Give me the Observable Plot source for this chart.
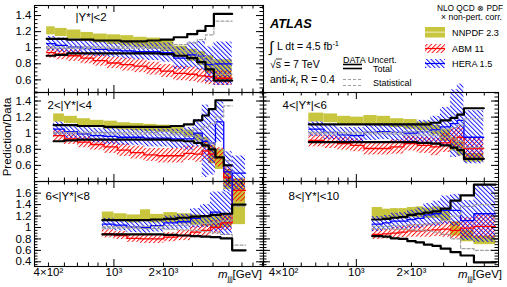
<!DOCTYPE html>
<html><head><meta charset="utf-8">
<script src="https://cdn.jsdelivr.net/npm/d3@7"></script>
<script src="https://cdn.jsdelivr.net/npm/@observablehq/plot@0.6"></script>
<style>
body{margin:0;background:#fff;}
#c{position:relative;width:507px;height:287px;overflow:hidden;background:#fff;font-family:"Liberation Sans",Arial,sans-serif;}
#c svg{position:absolute;}
</style></head><body><div id="c"></div>
<script>
// ---------- tick labels ----------
const xLabelVals = [400, 1000, 2000];
const xLabelTexts = ["4×10²", "10³", "2×10³"];
const xMinorTicks = [300,400,500,600,700,800,900,2000,3000,4000,5000,6000,7000,8000,9000];
const xMajorTicks = [1000];
const yMajorTop = [0.6, 0.8, 1.0, 1.2, 1.4];
const yMajorBottom = [0.4, 0.6, 0.8, 1.0, 1.2, 1.4, 1.6];
const panelLabels = ["|Y*|<2", "2<|Y*|<4", "4<|Y*|<6", "6<|Y*|<8", "8<|Y*|<10"];

// ---------- panel 1 : |Y*|<2 ----------
const p1Edges = [390, 440, 520, 630, 750, 910, 1100, 1320, 1590, 1920, 2310, 2790, 3210, 3600, 4050, 5230];
const p1TotUp = [1.11, 1.11, 1.10, 1.10, 1.09, 1.09, 1.08, 1.08, 1.09, 1.10, 1.13, 1.17, 1.21, 1.27, 1.42];
const p1TotDn = [0.90, 0.91, 0.93, 0.93, 0.93, 0.93, 0.93, 0.93, 0.93, 0.92, 0.90, 0.87, 0.82, 0.73, 0.59];
const p1StatUp = [1.01, 1.01, 1.01, 1.01, 1.01, 1.01, 1.01, 1.01, 1.01, 1.02, 1.04, 1.06, 1.10, 1.16, 1.33];
const p1StatDn = [0.99, 0.99, 0.99, 0.99, 0.99, 0.99, 0.99, 0.99, 0.99, 0.98, 0.96, 0.94, 0.90, 0.84, 0.67];
const p1NnHi = [1.26, 1.24, 1.22, 1.19, 1.17, 1.16, 1.15, 1.13, 1.12, 1.10, 1.02, 0.98, 0.95, 0.90, 0.85];
const p1NnLo = [1.16, 1.14, 1.11, 1.08, 1.06, 1.04, 1.02, 1.00, 0.98, 0.95, 0.88, 0.83, 0.78, 0.68, 0.58];
const p1HeraC = [1.05, 1.03, 1.01, 0.99, 0.98, 0.97, 0.96, 0.95, 0.95, 0.94, 0.87, 0.91, 0.90, 0.79, 0.80];
const p1HeraE = [0.09, 0.09, 0.09, 0.09, 0.09, 0.09, 0.10, 0.10, 0.11, 0.12, 0.14, 0.16, 0.18, 0.22, 0.27];
const p1AbmC = [0.94, 0.92, 0.90, 0.87, 0.84, 0.81, 0.79, 0.77, 0.74, 0.71, 0.68, 0.67, 0.65, 0.64, 0.62];
const p1AbmE = [0.07, 0.07, 0.07, 0.07, 0.07, 0.07, 0.08, 0.08, 0.08, 0.08, 0.09, 0.09, 0.09, 0.10, 0.09];

// ---------- panel 2 : 2<|Y*|<4 ----------
const p2Edges = [430, 500, 600, 720, 870, 1050, 1260, 1520, 1830, 2210, 2660, 3060, 3440, 3770, 4140, 4650, 5230];
const p2TotUp = [1.10, 1.10, 1.09, 1.09, 1.08, 1.08, 1.08, 1.08, 1.08, 1.09, 1.11, 1.16, 1.22, 1.30, 1.41, 1.41];
const p2TotDn = [0.90, 0.91, 0.92, 0.92, 0.92, 0.92, 0.92, 0.92, 0.92, 0.91, 0.90, 0.88, 0.85, 0.80, 0.70, 0.60];
const p2StatUp = [1.01, 1.01, 1.01, 1.01, 1.01, 1.01, 1.01, 1.01, 1.02, 1.02, 1.03, 1.05, 1.08, 1.12, 1.20, 1.34];
const p2StatDn = [0.99, 0.99, 0.99, 0.99, 0.99, 0.99, 0.99, 0.99, 0.98, 0.98, 0.97, 0.95, 0.92, 0.88, 0.80, 0.66];
const p2NnHi = [1.24, 1.21, 1.18, 1.16, 1.15, 1.13, 1.12, 1.11, 1.10, 1.08, 1.04, 1.00, 0.95, 0.85, 0.80, 0.55];
const p2NnLo = [1.14, 1.12, 1.09, 1.07, 1.05, 1.04, 1.03, 1.02, 1.01, 0.99, 0.95, 0.90, 0.82, 0.62, 0.55, 0.30];
const p2HeraC = [1.05, 1.02, 0.99, 0.97, 0.96, 0.95, 0.95, 0.94, 0.94, 0.93, 0.93, 1.00, 0.90, 0.88, 1.14, 0.52];
const p2HeraE = [0.09, 0.09, 0.09, 0.09, 0.10, 0.10, 0.10, 0.11, 0.11, 0.12, 0.14, 0.17, 0.45, 0.40, 0.25, 0.25];
const p2AbmC = [0.97, 0.93, 0.89, 0.86, 0.83, 0.79, 0.76, 0.73, 0.72, 0.72, 0.75, 0.74, 0.78, 0.74, 0.70, 0.45];
const p2AbmE = [0.07, 0.07, 0.07, 0.07, 0.08, 0.08, 0.08, 0.08, 0.09, 0.09, 0.09, 0.10, 0.11, 0.11, 0.12, 0.12];

// ---------- panel 3 : 4<|Y*|<6 ----------
const p3Edges = [550, 665, 790, 930, 1100, 1300, 1540, 1820, 2150, 2550, 2880, 3270, 3560, 3870, 4970];
const p3TotUp = [1.11, 1.11, 1.11, 1.11, 1.11, 1.11, 1.11, 1.11, 1.11, 1.13, 1.16, 1.19, 1.23, 1.31];
const p3TotDn = [0.89, 0.89, 0.89, 0.89, 0.89, 0.89, 0.89, 0.89, 0.88, 0.87, 0.85, 0.82, 0.79, 0.68];
const p3StatUp = [1.01, 1.01, 1.01, 1.01, 1.01, 1.01, 1.01, 1.02, 1.02, 1.03, 1.05, 1.07, 1.10, 1.18];
const p3StatDn = [0.99, 0.99, 0.99, 0.99, 0.99, 0.99, 0.99, 0.98, 0.98, 0.97, 0.95, 0.93, 0.90, 0.82];
const p3NnHi = [1.25, 1.24, 1.21, 1.20, 1.22, 1.21, 1.18, 1.17, 1.14, 1.10, 1.05, 0.95, 0.90, 0.75];
const p3NnLo = [1.14, 1.13, 1.11, 1.10, 1.10, 1.09, 1.07, 1.05, 1.03, 0.98, 0.90, 0.78, 0.72, 0.64];
const p3HeraC = [1.05, 1.01, 0.98, 0.97, 1.01, 1.02, 1.01, 1.00, 1.02, 1.04, 1.08, 1.12, 1.16, 0.95];
const p3HeraE = [0.09, 0.09, 0.09, 0.10, 0.10, 0.10, 0.11, 0.12, 0.14, 0.17, 0.24, 0.42, 0.45, 0.33];
const p3AbmC = [0.91, 0.89, 0.87, 0.85, 0.81, 0.81, 0.83, 0.87, 0.85, 0.83, 0.88, 0.93, 0.95, 0.81];
const p3AbmE = [0.08, 0.08, 0.08, 0.08, 0.08, 0.08, 0.09, 0.09, 0.10, 0.11, 0.12, 0.13, 0.14, 0.13];

// ---------- panel 4 : 6<|Y*|<8 ----------
const p4Edges = [850, 1000, 1200, 1450, 1670, 2010, 2430, 2920, 3360, 3860, 4440, 5230, 6310];
const p4TotUp = [1.13, 1.13, 1.13, 1.13, 1.14, 1.15, 1.17, 1.19, 1.20, 1.22, 1.24, 1.40];
const p4TotDn = [0.88, 0.88, 0.88, 0.88, 0.88, 0.87, 0.86, 0.85, 0.84, 0.83, 0.81, 0.60];
const p4StatUp = [1.01, 1.01, 1.01, 1.02, 1.02, 1.03, 1.04, 1.05, 1.07, 1.09, 1.12, 1.37];
const p4StatDn = [0.99, 0.99, 0.99, 0.98, 0.98, 0.97, 0.96, 0.95, 0.93, 0.91, 0.88, 0.69];
const p4NnHi = [1.27, 1.24, 1.22, 1.31, 1.23, 1.26, 1.24, 1.22, 1.20, 1.20, 1.22, 1.85];
const p4NnLo = [1.12, 1.10, 1.08, 1.10, 1.08, 1.08, 1.06, 1.04, 1.02, 1.00, 1.00, 1.05];
const p4HeraC = [1.06, 1.04, 1.01, 1.00, 1.03, 1.08, 1.10, 1.16, 1.20, 1.27, 1.24, 1.95];
const p4HeraE = [0.10, 0.10, 0.10, 0.10, 0.11, 0.12, 0.13, 0.17, 0.20, 0.35, 0.38, 0.30];
const p4AbmC = [0.89, 0.86, 0.81, 0.80, 0.80, 0.83, 0.86, 0.92, 0.95, 1.00, 1.08, 1.65];
const p4AbmE = [0.07, 0.07, 0.07, 0.08, 0.08, 0.08, 0.09, 0.10, 0.11, 0.12, 0.13, 0.20];

// ---------- panel 5 : 8<|Y*|<10 ----------
const p5Edges = [1220, 1390, 1540, 1710, 1900, 2110, 2340, 2600, 2890, 3270, 3710, 4390, 5770];
const p5TotUp = [1.14, 1.15, 1.17, 1.18, 1.22, 1.24, 1.26, 1.28, 1.33, 1.47, 1.56, 1.75];
const p5TotDn = [0.85, 0.84, 0.81, 0.80, 0.76, 0.74, 0.70, 0.68, 0.63, 0.57, 0.51, 0.39];
const p5StatUp = [1.02, 1.02, 1.03, 1.03, 1.04, 1.05, 1.06, 1.08, 1.12, 1.20, 1.37, 1.40];
const p5StatDn = [0.98, 0.98, 0.97, 0.97, 0.96, 0.95, 0.94, 0.92, 0.88, 0.80, 0.63, 0.60];
const p5NnHi = [1.35, 1.32, 1.33, 1.33, 1.35, 1.36, 1.34, 1.36, 1.33, 1.10, 0.95, 0.85];
const p5NnLo = [1.16, 1.15, 1.15, 1.16, 1.17, 1.17, 1.16, 1.16, 1.12, 0.85, 0.75, 0.70];
const p5HeraC = [1.06, 1.08, 1.11, 1.11, 1.14, 1.16, 1.22, 1.24, 1.30, 1.30, 1.12, 1.24];
const p5HeraE = [0.13, 0.13, 0.14, 0.15, 0.16, 0.18, 0.20, 0.22, 0.25, 0.28, 0.35, 0.50];
const p5AbmC = [0.88, 0.89, 0.90, 0.92, 0.94, 0.94, 0.95, 0.96, 0.97, 0.95, 0.99, 1.02];
const p5AbmE = [0.09, 0.09, 0.10, 0.10, 0.11, 0.11, 0.12, 0.12, 0.14, 0.15, 0.18, 0.22];

// ---------- drawing ----------
const C = document.getElementById("c");
const NN = "#c8c63e";
const FONT = "'Liberation Sans', Arial, sans-serif";

C.insertAdjacentHTML("beforeend", `<svg width="0" height="0" style="position:absolute;left:0;top:0"><defs>
<pattern id="hatchR" patternUnits="userSpaceOnUse" width="3.2" height="3.2" patternTransform="rotate(45)"><line x1="0.5" y1="-1" x2="0.5" y2="4.2" stroke="#ff0000" stroke-width="0.9"/></pattern>
<pattern id="hatchB" patternUnits="userSpaceOnUse" width="3.2" height="3.2" patternTransform="rotate(-45)"><line x1="0.5" y1="-1" x2="0.5" y2="4.2" stroke="#0000ff" stroke-width="0.9"/></pattern>
</defs></svg>`);

const fmtY = d => d === 1 ? "1" : d.toFixed(1);
function steps(edges, vals) {
  const pts = [];
  vals.forEach((v, i) => { pts.push({x: edges[i], y: v}); pts.push({x: edges[i + 1], y: v}); });
  return pts;
}
function band(edges, c, e) {
  return c.map((v, i) => ({x1: edges[i], x2: edges[i + 1], y1: v - e[i], y2: v + e[i]}));
}

function panel(p) {
  const mL = 36, mR = 12, mT = 14, mB = 24;
  const fw = p.fx1 - p.fx0, fh = p.fy1 - p.fy0;
  const e = p.edges;
  const nnBins = p.nnLo.map((l, i) => ({x1: e[i], x2: e[i + 1], y1: l, y2: p.nnHi[i]}));
  const yMin = d3.range(Math.ceil(p.yd[0] * 20), Math.floor(p.yd[1] * 20) + 1).map(k => k / 20);
  const xMin = xMinorTicks.filter(v => v > p.xd[0] && v < p.xd[1]);
  const R = {x1: "x1", x2: "x2", y1: "y1", y2: "y2"};
  const L = {x: "x", y: "y"};
  const marks = [
    Plot.rect(nnBins, {...R, fill: NN}),
    Plot.rect(band(e, p.abmC, p.abmE), {...R, fill: "url(#hatchR)"}),
    Plot.rect(band(e, p.heraC, p.heraE), {...R, fill: "url(#hatchB)"}),
    Plot.line(steps(e, p.abmC), {...L, stroke: "#ff0000", strokeWidth: 1.3}),
    Plot.line(steps(e, p.heraC), {...L, stroke: "#0000ff", strokeWidth: 1.3}),
    Plot.line(steps(e, p.statUp), {...L, stroke: "#a0a0a0", strokeWidth: 1.2, strokeDasharray: "3,2"}),
    Plot.line(steps(e, p.statDn), {...L, stroke: "#a0a0a0", strokeWidth: 1.2, strokeDasharray: "3,2"}),
    Plot.line(steps(e, p.totUp), {...L, stroke: "#000", strokeWidth: 2.2}),
    Plot.line(steps(e, p.totDn), {...L, stroke: "#000", strokeWidth: 2.2}),
    Plot.frame({stroke: "#000", strokeWidth: 1.1}),
    Plot.tickY(yMin, {y: d => d, insetRight: fw - 3.5, stroke: "#000"}),
    Plot.tickY(yMin, {y: d => d, insetLeft: fw - 3.5, stroke: "#000"}),
    Plot.tickY(p.yMajor, {y: d => d, insetRight: fw - 7, stroke: "#000"}),
    Plot.tickY(p.yMajor, {y: d => d, insetLeft: fw - 7, stroke: "#000"}),
    Plot.tickX(xMin, {x: d => d, insetTop: fh - 3.5, stroke: "#000"}),
    Plot.tickX(xMin, {x: d => d, insetBottom: fh - 3.5, stroke: "#000"}),
    Plot.tickX(xMajorTicks, {x: d => d, insetTop: fh - 7, stroke: "#000"}),
    Plot.tickX(xMajorTicks, {x: d => d, insetBottom: fh - 7, stroke: "#000"}),
    Plot.text([p.label], {text: d => d, frameAnchor: "top-left", dx: p.ldx, dy: p.ldy, lineAnchor: "top", textAnchor: "start", fontSize: 11.5, fill: "#000"})
  ];
  if (p.yLabels) marks.push(Plot.text(p.yMajor, {y: d => d, text: fmtY, frameAnchor: "left", textAnchor: "end", dx: -3, fontSize: 11.5, fill: "#000"}));
  if (p.xLabels) marks.push(Plot.text(xLabelVals, {x: d => d, text: (d, i) => xLabelTexts[i], frameAnchor: "bottom", lineAnchor: "top", dy: 1.5, fontSize: 11.5, fill: "#000"}));
  const svg = Plot.plot({
    width: fw + mL + mR, height: fh + mT + mB,
    marginLeft: mL, marginRight: mR, marginTop: mT, marginBottom: mB,
    x: {type: "log", domain: p.xd, axis: null},
    y: {domain: p.yd, axis: null},
    style: {background: "transparent", overflow: "visible", fontFamily: FONT},
    marks
  });
  svg.style.position = "absolute";
  svg.style.left = (p.fx0 - mL) + "px";
  svg.style.top = (p.fy0 - mT) + "px";
  C.append(svg);
}

const XL = [329, 8110], XR = [311, 5980];
const cols = [[34, 263], [263, 498]];
const rows = [[5, 92], [92, 181], [181, 266]];
const YD = [[0.443, 1.525], [0.40, 1.506], [0.318, 1.804]];

panel({fx0: cols[0][0], fx1: cols[0][1], fy0: rows[0][0], fy1: rows[0][1], xd: XL, yd: YD[0], yMajor: yMajorTop, yLabels: true, xLabels: false,
  label: panelLabels[0], ldx: 41, ldy: 7, edges: p1Edges, totUp: p1TotUp, totDn: p1TotDn, statUp: p1StatUp, statDn: p1StatDn,
  nnHi: p1NnHi, nnLo: p1NnLo, heraC: p1HeraC, heraE: p1HeraE, abmC: p1AbmC, abmE: p1AbmE});
panel({fx0: cols[0][0], fx1: cols[0][1], fy0: rows[1][0], fy1: rows[1][1], xd: XL, yd: YD[1], yMajor: yMajorTop, yLabels: true, xLabels: false,
  label: panelLabels[1], ldx: 13, ldy: 8, edges: p2Edges, totUp: p2TotUp, totDn: p2TotDn, statUp: p2StatUp, statDn: p2StatDn,
  nnHi: p2NnHi, nnLo: p2NnLo, heraC: p2HeraC, heraE: p2HeraE, abmC: p2AbmC, abmE: p2AbmE});
panel({fx0: cols[1][0], fx1: cols[1][1], fy0: rows[1][0], fy1: rows[1][1], xd: XR, yd: YD[1], yMajor: yMajorTop, yLabels: false, xLabels: false,
  label: panelLabels[2], ldx: 19, ldy: 8, edges: p3Edges, totUp: p3TotUp, totDn: p3TotDn, statUp: p3StatUp, statDn: p3StatDn,
  nnHi: p3NnHi, nnLo: p3NnLo, heraC: p3HeraC, heraE: p3HeraE, abmC: p3AbmC, abmE: p3AbmE});
panel({fx0: cols[0][0], fx1: cols[0][1], fy0: rows[2][0], fy1: rows[2][1], xd: XL, yd: YD[2], yMajor: yMajorBottom, yLabels: true, xLabels: true,
  label: panelLabels[3], ldx: 11, ldy: 10, edges: p4Edges, totUp: p4TotUp, totDn: p4TotDn, statUp: p4StatUp, statDn: p4StatDn,
  nnHi: p4NnHi, nnLo: p4NnLo, heraC: p4HeraC, heraE: p4HeraE, abmC: p4AbmC, abmE: p4AbmE});
panel({fx0: cols[1][0], fx1: cols[1][1], fy0: rows[2][0], fy1: rows[2][1], xd: XR, yd: YD[2], yMajor: yMajorBottom, yLabels: false, xLabels: true,
  label: panelLabels[4], ldx: 25, ldy: 10, edges: p5Edges, totUp: p5TotUp, totDn: p5TotDn, statUp: p5StatUp, statDn: p5StatDn,
  nnHi: p5NnHi, nnLo: p5NnLo, heraC: p5HeraC, heraE: p5HeraE, abmC: p5AbmC, abmE: p5AbmE});

// ---------- titles & legend ----------
C.insertAdjacentHTML("beforeend", `<svg width="507" height="287" style="position:absolute;left:0;top:0;font-family:${FONT}" fill="#000">
<text transform="translate(10.5,137) rotate(-90)" text-anchor="middle" font-size="11.5">Prediction/Data</text>
<text x="262" y="277.5" text-anchor="end" font-size="11.5"><tspan font-style="italic">m</tspan><tspan font-size="7.5" dy="3">jjj</tspan><tspan dy="-3">[GeV]</tspan></text>
<text x="502" y="277.5" text-anchor="end" font-size="11.5"><tspan font-style="italic">m</tspan><tspan font-size="7.5" dy="3">jjj</tspan><tspan dy="-3">[GeV]</tspan></text>
<text x="270" y="28" font-size="12.8" font-weight="bold" font-style="italic">ATLAS</text>
<text x="269" y="52" font-size="15">∫</text>
<text x="277" y="50" font-size="10.5">L dt = 4.5 fb<tspan font-size="7.5" dy="-4.5">-1</tspan></text>
<text x="270" y="68" font-size="10.5">√s = 7 TeV</text>
<line x1="276" y1="59" x2="282" y2="59" stroke="#000" stroke-width="0.8"/>
<text x="270" y="83" font-size="10.5">anti-<tspan font-style="italic">k</tspan><tspan font-size="7.5" dy="2.5" font-style="italic">t</tspan><tspan dy="-2.5"> R = 0.4</tspan></text>
<text x="343" y="63" font-size="9">DATA Uncert.</text>
<line x1="343" y1="64.5" x2="362" y2="64.5" stroke="#000" stroke-width="1.6"/>
<line x1="343" y1="68.5" x2="362" y2="68.5" stroke="#000" stroke-width="1.6"/>
<text x="373" y="71.5" font-size="9">Total</text>
<line x1="343" y1="79.5" x2="362" y2="79.5" stroke="#a0a0a0" stroke-width="1" stroke-dasharray="3,2"/>
<line x1="343" y1="85.5" x2="362" y2="85.5" stroke="#a0a0a0" stroke-width="1" stroke-dasharray="3,2"/>
<text x="373" y="86" font-size="9">Statistical</text>
<text x="503" y="10.8" text-anchor="end" font-size="8.3">NLO QCD ⊗ PDF</text>
<text x="502" y="20.3" text-anchor="end" font-size="8.6">× non-pert. corr.</text>
<rect x="425" y="27" width="20" height="10.5" fill="${NN}"/>
<line x1="425" y1="32.2" x2="445" y2="32.2" stroke="#e6e6a8" stroke-width="1.3"/>
<text x="452" y="36" font-size="9.2">NNPDF 2.3</text>
<rect x="425" y="44" width="20" height="9" fill="url(#hatchR)"/>
<line x1="425" y1="48.5" x2="445" y2="48.5" stroke="#ff0000" stroke-width="1.2"/>
<text x="452" y="52" font-size="9.2">ABM 11</text>
<rect x="425" y="59" width="20" height="9" fill="url(#hatchB)"/>
<line x1="425" y1="63.5" x2="445" y2="63.5" stroke="#0000ff" stroke-width="1.2"/>
<text x="452" y="67" font-size="9.2">HERA 1.5</text>
</svg>`);
</script>
</body></html>
